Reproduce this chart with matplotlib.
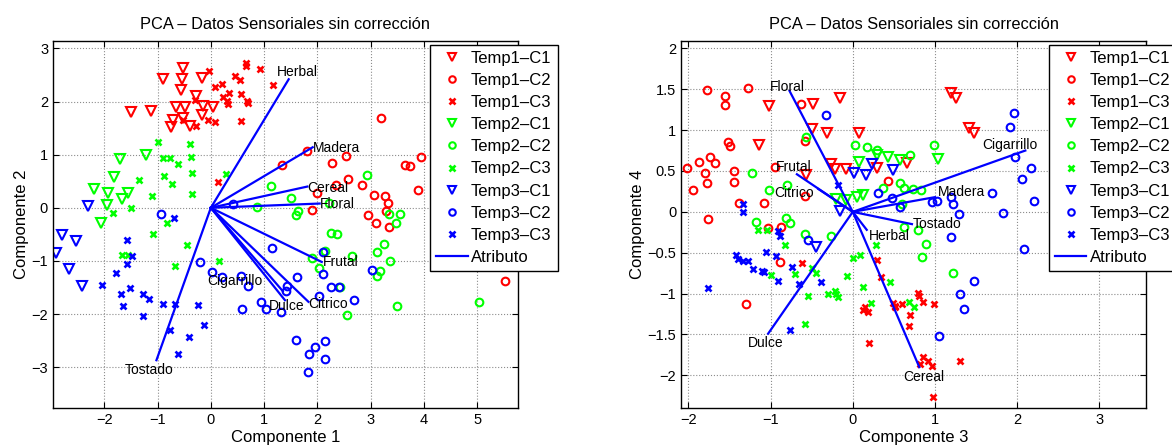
import numpy as np
import matplotlib
matplotlib.use('Agg')
import matplotlib.pyplot as plt
from matplotlib.ticker import FuncFormatter

plt.rcParams['font.family'] = ['Liberation Sans', 'DejaVu Sans']

# ---- scores, componentes 1-2 ----
t1c1_a = [(-0.52, 2.64), (-0.89, 2.42), (-0.54, 2.42), (-0.17, 2.45), (-0.56, 2.22), (-0.28, 2.11),
          (-0.14, 1.92), (0.04, 1.90), (-1.49, 1.80), (-1.13, 1.82), (-0.66, 1.89), (-0.49, 1.90),
          (-0.71, 1.66), (-0.52, 1.70), (-0.16, 1.75), (-0.74, 1.53), (-0.39, 1.54)]
t1c2_a = [(3.20, 1.69), (3.94, 0.96), (2.53, 0.97), (2.28, 0.84), (3.65, 0.81), (3.73, 0.79),
          (1.81, 1.07), (1.34, 0.81), (2.58, 0.55), (2.83, 0.43), (2.35, 0.42), (1.99, 0.27),
          (3.06, 0.25), (3.26, 0.23), (3.33, 0.09), (3.89, 0.33), (1.89, -0.04), (3.29, -0.06),
          (2.95, -0.14), (3.10, -0.29), (3.35, -0.36), (5.52, -1.38)]
t1c3_a = [(0.66, 2.72), (0.66, 2.67), (0.92, 2.62), (-0.04, 2.57), (0.45, 2.49), (0.54, 2.40),
          (0.20, 2.33), (1.17, 2.31), (0.08, 2.27), (0.34, 2.17), (0.22, 2.09), (0.56, 2.14),
          (0.31, 2.01), (0.32, 1.95), (0.67, 2.02), (0.70, 1.98), (-0.30, 2.03), (-0.05, 1.66),
          (0.08, 1.61), (0.56, 1.64), (-0.27, 1.54), (-0.53, 1.65), (0.14, 0.48)]
t2c1_a = [(-1.71, 0.91), (-1.22, 0.99), (-1.82, 0.58), (-2.19, 0.35), (-1.93, 0.27), (-1.56, 0.28),
          (-1.66, 0.16), (-1.94, 0.05), (-2.06, -0.28)]
t2c2_a = [(1.12, 0.41), (1.51, 0.19), (0.87, 0.02), (1.64, -0.06), (1.59, -0.14), (2.21, 0.09),
          (2.93, 0.62), (3.35, -0.11), (3.55, -0.11), (3.47, -0.29), (2.25, -0.48), (2.36, -0.50),
          (3.11, -0.83), (3.25, -0.69), (3.36, -1.00), (3.17, -1.19), (3.11, -1.29), (2.64, -0.90),
          (2.14, -0.82), (1.89, -0.94), (2.03, -1.14), (2.42, -1.49), (2.55, -2.01), (3.50, -1.85),
          (5.03, -1.78)]
t2c3_a = [(-1.00, 1.23), (-0.89, 0.93), (-0.76, 0.93), (-0.62, 0.82), (-0.39, 1.21), (-0.38, 0.96),
          (-0.35, 0.66), (-0.88, 0.60), (-0.73, 0.44), (-1.35, 0.52), (-1.11, 0.22), (-0.36, 0.26),
          (-1.49, -0.01), (-1.83, -0.09), (0.29, 0.63), (-0.83, -0.28), (-1.09, -0.50), (-1.66, -0.89),
          (-1.55, -0.89), (-0.68, -1.09), (-0.44, -0.70), (0.16, -1.00)]
t3c1_a = [(-2.30, 0.03), (-2.80, -0.51), (-2.53, -0.63), (-2.91, -0.85), (-2.66, -1.16), (-2.41, -1.47)]
t3c2_a = [(-0.94, -0.12), (0.42, 0.08), (-0.21, -1.02), (0.03, -1.21), (0.21, -1.30), (0.56, -1.28),
          (0.69, -1.47), (1.14, -0.75), (0.94, -1.78), (1.04, -1.91), (0.59, -1.91), (1.31, -1.96),
          (1.41, -1.57), (1.43, -1.47), (1.61, -1.30), (1.59, -2.49), (2.11, -0.83), (2.11, -1.24),
          (2.25, -1.49), (2.41, -1.49), (2.03, -1.66), (2.69, -1.74), (3.03, -1.17), (1.95, -2.62),
          (2.14, -2.50), (1.84, -2.76), (2.14, -2.84), (1.83, -3.10)]
t3c3_a = [(-0.69, -0.20), (-1.58, -0.60), (-1.58, -1.05), (-1.47, -0.91), (-1.77, -1.22), (-2.05, -1.46),
          (-1.69, -1.63), (-1.51, -1.51), (-1.65, -1.85), (-1.27, -1.63), (-1.16, -1.71), (-1.28, -2.04),
          (-0.89, -1.81), (-0.68, -1.81), (-0.25, -1.83), (-0.13, -2.21), (-0.76, -2.30), (-0.41, -2.44),
          (-0.61, -2.76)]

# ---- scores, componentes 3-4 ----
t1c1_b = [(-1.02, 1.29), (-0.49, 1.32), (-0.15, 1.39), (-0.50, 1.01), (-0.31, 0.96), (0.07, 0.97),
          (-1.14, 0.82), (-0.57, 0.45), (-0.26, 0.58), (-0.22, 0.53), (-0.08, 0.53), (0.29, 0.54),
          (0.66, 0.60), (1.20, 1.45), (1.26, 1.39), (1.42, 1.02), (1.48, 0.96)]
t1c2_b = [(-1.78, 1.49), (-1.55, 1.42), (-1.56, 1.31), (-1.27, 1.52), (-1.52, 0.86), (-1.49, 0.81),
          (-1.87, 0.61), (-1.74, 0.67), (-1.68, 0.60), (-2.02, 0.54), (-1.94, 0.27), (-1.80, 0.47),
          (-1.78, 0.35), (-1.44, 0.50), (-1.45, 0.36), (-1.39, 0.11), (-1.08, 0.11), (-1.76, -0.09),
          (-0.95, 0.55), (-0.63, 1.32), (-0.58, 0.87), (-0.58, 0.20), (-1.03, -0.20), (-0.87, -0.19),
          (-0.88, -0.61), (0.43, 0.38), (-1.30, -1.13)]
t1c3_b = [(-0.62, -0.62), (0.30, -0.59), (0.34, -0.80), (0.12, -1.20), (0.15, -1.17), (0.18, -1.22),
          (0.20, -1.61), (0.49, -1.11), (0.51, -1.15), (0.52, -1.17), (0.60, -1.13), (0.79, -0.99),
          (0.81, -1.03), (0.85, -1.10), (0.99, -1.13), (0.70, -1.26), (0.69, -1.40), (0.86, -1.77),
          (0.82, -1.86), (0.92, -1.82), (0.96, -1.89), (1.30, -1.82), (0.98, -2.27)]
t2c1_b = [(0.08, 0.61), (0.29, 0.69), (0.43, 0.67), (0.57, 0.63), (1.04, 0.65), (-0.21, 0.16),
          (-0.08, 0.14), (0.05, 0.18), (0.13, 0.21)]
t2c2_b = [(-1.23, 0.48), (-1.02, 0.27), (-0.80, 0.33), (-0.57, 0.91), (0.03, 0.82), (0.17, 0.79),
          (0.30, 0.76), (-1.18, -0.13), (-0.81, -0.07), (-0.76, -0.14), (-0.58, -0.27), (-0.27, -0.29),
          (0.70, 0.69), (0.99, 0.82), (0.58, 0.35), (0.62, 0.29), (0.73, 0.28), (0.83, 0.27),
          (0.37, 0.29), (0.62, -0.18), (0.79, -0.22), (0.89, -0.39), (0.84, -0.55), (1.22, -0.75),
          (0.60, 0.09)]
t2c3_b = [(-1.15, -0.22), (-1.04, -0.22), (-0.82, -0.41), (-0.99, -0.77), (-0.70, -0.76), (-0.50, -0.69),
          (-0.45, -0.75), (-0.55, -1.03), (-0.30, -1.00), (-0.22, -0.97), (-0.20, -1.00), (-0.18, -1.04),
          (-0.07, -0.78), (0.00, -0.56), (0.09, -0.53), (0.28, -0.40), (0.12, -0.92), (0.22, -1.12),
          (0.45, -0.86), (-0.58, -1.37), (0.69, -1.10), (0.74, -1.16)]
t3c1_b = [(0.02, 0.48), (0.16, 0.45), (0.23, 0.58), (0.49, 0.51), (-0.16, 0.01), (-0.45, -0.43)]
t3c2_b = [(-0.32, 1.19), (0.31, 0.23), (0.48, 0.17), (0.58, 0.06), (0.97, 0.12), (1.03, 0.13),
          (1.20, -0.31), (1.22, 0.09), (1.19, 0.18), (-0.54, -0.35), (1.96, 1.21), (1.91, 1.04),
          (1.97, 0.67), (2.17, 0.54), (2.06, 0.40), (2.20, 0.13), (1.70, 0.23), (1.83, -0.01),
          (1.29, -0.03), (2.08, -0.46), (1.48, -0.84), (1.31, -1.01), (1.35, -1.19), (1.05, -1.52)]
t3c3_b = [(-1.33, 0.10), (-1.33, 0.00), (-0.91, -0.24), (-0.88, -0.30), (-1.42, -0.53), (-1.40, -0.58),
          (-1.34, -0.60), (-1.27, -0.60), (-1.21, -0.70), (-1.11, -0.72), (-1.08, -0.74), (-1.06, -0.49),
          (-0.93, -0.54), (-0.74, -0.68), (-0.91, -0.85), (-0.66, -0.88), (-0.39, -0.86), (-1.76, -0.93),
          (-0.77, -1.45), (-0.18, 0.33)]

# ---- atributos (cargas) y posiciones de las etiquetas ----
atributos = ['Herbal', 'Madera', 'Cereal', 'Floral', 'Frutal', 'Citrico', 'Dulce', 'Cigarrillo', 'Tostado']
carga_a = [(1.46, 2.42), (1.91, 1.14), (1.81, 0.40), (2.04, 0.08), (2.08, -1.02),
           (1.83, -1.77), (1.39, -1.74), (1.35, -1.57), (-1.02, -2.87)]
etiq_a = [(1.24, 2.55), (1.91, 1.12), (1.80, 0.38), (2.04, 0.07), (2.10, -1.03),
          (1.82, -1.81), (1.09, -1.85), (-0.06, -1.38), (-1.61, -3.06)]
carga_b = [(0.17, -0.22), (1.00, 0.18), (0.81, -1.90), (-0.77, 1.48), (-0.68, 0.46),
           (-0.42, 0.28), (-1.03, -1.49), (2.10, 0.75), (0.72, -0.15)]
etiq_b = [(0.20, -0.29), (1.03, 0.24), (0.61, -2.02), (-1.01, 1.53), (-0.93, 0.55),
          (-0.95, 0.23), (-1.28, -1.61), (1.57, 0.82), (0.73, -0.15)]

grupos = ['Temp1\u2013C1', 'Temp1\u2013C2', 'Temp1\u2013C3',
          'Temp2\u2013C1', 'Temp2\u2013C2', 'Temp2\u2013C3',
          'Temp3\u2013C1', 'Temp3\u2013C2', 'Temp3\u2013C3']
colores = ['r', 'r', 'r', (0, 1, 0), (0, 1, 0), (0, 1, 0), 'b', 'b', 'b']
marcas = ['v', 'o', 'x'] * 3

datos_a = [t1c1_a, t1c2_a, t1c3_a, t2c1_a, t2c2_a, t2c3_a, t3c1_a, t3c2_a, t3c3_a]
datos_b = [t1c1_b, t1c2_b, t1c3_b, t2c1_b, t2c2_b, t2c3_b, t3c1_b, t3c2_b, t3c3_b]

fmt = FuncFormatter(lambda v, p: ('%g' % v).replace('-', '\u2212'))


def biplot(ax, datos, cargas, etiquetas, xlim, ylim, xt, yt, xlab, ylab, leg_x):
    for pts, nom, col, m in zip(datos, grupos, colores, marcas):
        p = np.array(pts)
        if m == 'x':
            ax.plot(p[:, 0], p[:, 1], ls='none', marker='x', ms=4.5, mew=1.9,
                    color=col, label=nom, zorder=2)
        else:
            ax.plot(p[:, 0], p[:, 1], ls='none', marker=m, ms=6.5 if m == 'v' else 5.5,
                    mew=1.5, mfc='none', mec=col, label=nom, zorder=2)
    for i, (c, e, nom) in enumerate(zip(cargas, etiquetas, atributos)):
        ax.plot([0, c[0]], [0, c[1]], color='b', lw=1.6, zorder=3,
                label='Atributo' if i == 0 else '_nolegend_')
        ax.text(e[0], e[1], nom, fontsize=10, ha='left', va='center', zorder=4)
    ax.set_xlim(*xlim)
    ax.set_ylim(*ylim)
    ax.set_xticks(xt)
    ax.set_yticks(yt)
    ax.xaxis.set_major_formatter(fmt)
    ax.yaxis.set_major_formatter(fmt)
    ax.tick_params(direction='in', length=4, width=0.8, top=True, right=True, labelsize=10.5)
    ax.grid(True, ls=':', color='#8c8c8c', lw=0.8)
    ax.set_axisbelow(True)
    for s in ax.spines.values():
        s.set_linewidth(1.0)
    ax.set_xlabel(xlab, fontsize=12, labelpad=2.5)
    ax.set_ylabel(ylab, fontsize=12, labelpad=2)
    ax.set_title('PCA \u2013 Datos Sensoriales sin corrección', fontsize=11.8, pad=9)
    leg = ax.legend(loc='upper left', bbox_to_anchor=(leg_x, 0.99), fontsize=12,
                    frameon=True, fancybox=False, edgecolor='k', framealpha=1,
                    borderaxespad=0, borderpad=0.35, labelspacing=0.43,
                    handlelength=1.9, handletextpad=0.2, markerscale=0.85)
    leg.get_frame().set_linewidth(1.0)
    leg.set_zorder(5)


fig = plt.figure(figsize=(11.72, 4.45), dpi=100)
ax1 = fig.add_axes([0.0452, 0.0831, 0.3968, 0.8247])
ax2 = fig.add_axes([0.5811, 0.0831, 0.3968, 0.8247])

biplot(ax1, datos_a, carga_a, etiq_a, (-2.96, 5.76), (-3.77, 3.14),
       range(-2, 6), range(-3, 4), 'Componente 1', 'Componente 2', 0.811)
biplot(ax2, datos_b, carga_b, etiq_b, (-2.09, 3.57), (-2.40, 2.09),
       range(-2, 4), np.arange(-2, 2.01, 0.5), 'Componente 3', 'Componente 4', 0.791)

fig.savefig('out.png', dpi=100)
